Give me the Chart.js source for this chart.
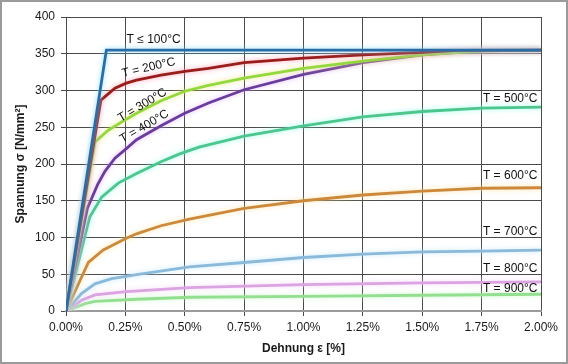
<!DOCTYPE html>
<html lang="de">
<head>
<meta charset="utf-8">
<title>Spannung-Dehnung</title>
<script src="https://cdn.jsdelivr.net/npm/chart.js@4.4.1/dist/chart.umd.min.js"></script>
<style>
	html, body {
		margin: 0;
		padding: 0;
		background: #fff;
	}
	#chart {
		display: block;
	}
</style>
</head>
<body>
<canvas id="chart" width="568" height="364"></canvas>
<script>
/* ==========================================================================
 Data
 ========================================================================== */

const strainTicks = [0, 0.25, 0.5, 0.75, 1.0, 1.25, 1.5, 1.75, 2.0];
const stressTicks = [0, 50, 100, 150, 200, 250, 300, 350, 400];

const strain100 = [0, 0.17, 2.0];
const stress100 = [0, 355, 355];

const strain200 = [0, 0.147, 0.206, 0.254, 0.297, 0.4, 0.5, 0.6, 0.75, 1.0, 1.25, 1.5, 1.65, 2.0];
const stress200 = [0, 287, 303, 310, 314, 321, 326, 330, 338, 344, 348.5, 352, 354.5, 355];

const strain300 = [0, 0.122, 0.178, 0.254, 0.297, 0.4, 0.5, 0.6, 0.75, 1.0, 1.25, 1.5, 1.75, 2.0];
const stress300 = [0, 230, 246, 261, 269, 286, 299, 307, 317, 330, 340, 348.5, 354, 355];

const strain400 = [0, 0.09, 0.133, 0.164, 0.206, 0.254, 0.297, 0.4, 0.5, 0.6, 0.75, 1.0, 1.25, 1.5, 1.75, 2.0];
const stress400 = [0, 140, 172, 190, 208, 221, 233, 252, 269, 283, 301, 322, 338, 348.5, 354, 355];

const strain500 = [0, 0.1, 0.15, 0.22, 0.297, 0.4, 0.479, 0.56, 0.75, 1.0, 1.25, 1.5, 1.75, 2.0];
const stress500 = [0, 128, 155, 174, 187, 203, 213.7, 223, 238, 252, 264, 271.4, 276, 277.4];

const strain600 = [0, 0.094, 0.157, 0.254, 0.297, 0.4, 0.52, 0.75, 1.0, 1.25, 1.5, 1.75, 2.0];
const stress600 = [0, 66, 83, 99, 105, 116, 125, 139.6, 150, 157.8, 163.2, 167, 167.7];

const strain700 = [0, 0.065, 0.122, 0.192, 0.254, 0.297, 0.52, 0.75, 1.0, 1.25, 1.5, 1.75, 2.0];
const stress700 = [0, 23.7, 37, 44, 47, 49.6, 60, 66, 72.8, 77.3, 80.5, 81.4, 82.8];

const strain800 = [0, 0.065, 0.122, 0.254, 0.52, 1.0, 1.5, 2.0];
const stress800 = [0, 14.6, 22, 26.5, 31.8, 36, 38.2, 39.5];

const strain900 = [0, 0.08, 0.122, 0.297, 0.52, 1.0, 1.5, 2.0];
const stress900 = [0, 10, 13.2, 16, 18.7, 20, 21.4, 22.8];

/* ==========================================================================
 Helpers
 ========================================================================== */

const FONT = "'Liberation Sans', Arial, sans-serif";

const toPoints = (xs, ys) => xs.map((x, i) => ({x: x, y: ys[i]}));

const makeCurve = (label, xs, ys, color, glow) => ({
	label: label,
	data: toPoints(xs, ys),
	showLine: true,
	borderColor: color,
	backgroundColor: color,
	borderWidth: 2.8,
	pointRadius: 0,
	tension: 0,
	glow: glow,
});

/* ==========================================================================
 Plugins
 ========================================================================== */

// white page with grey frame
const framePlugin = {
	id: 'frame',
	beforeDraw(chart) {
		const {ctx, width, height} = chart;
		ctx.save();
		ctx.fillStyle = '#ffffff';
		ctx.fillRect(0, 0, width, height);
		ctx.strokeStyle = '#9a9a9a';
		ctx.lineWidth = 2;
		ctx.strokeRect(1, 1, width - 2, height - 2);
		ctx.restore();
	},
};

// soft halo around the lines
const glowPlugin = {
	id: 'glow',
	beforeDatasetDraw(chart, args) {
		const ds = chart.data.datasets[args.index];
		chart.ctx.save();
		chart.ctx.shadowColor = ds.glow;
		chart.ctx.shadowBlur = 5;
	},
	afterDatasetDraw(chart) {
		chart.ctx.restore();
	},
};

// curve labels, anchored in data coordinates
const curveLabels = [
	{text: 'T \u2264 100\u00B0C', x: 0.369, y: 369, angle: 0, align: 'center'},
	{text: 'T = 200\u00B0C', x: 0.348, y: 331, angle: -13, align: 'center'},
	{text: 'T = 300\u00B0C', x: 0.322, y: 280, angle: -31, align: 'center'},
	{text: 'T = 400\u00B0C', x: 0.330, y: 251, angle: -30, align: 'center'},
	{text: 'T = 500\u00B0C', x: 1.985, y: 289, angle: 0, align: 'right'},
	{text: 'T = 600\u00B0C', x: 1.985, y: 184, angle: 0, align: 'right'},
	{text: 'T = 700\u00B0C', x: 1.985, y: 107.5, angle: 0, align: 'right'},
	{text: 'T = 800\u00B0C', x: 1.985, y: 58, angle: 0, align: 'right'},
	{text: 'T = 900\u00B0C', x: 1.985, y: 30.5, angle: 0, align: 'right'},
];

const labelPlugin = {
	id: 'curveLabels',
	afterDatasetsDraw(chart) {
		const {ctx, scales} = chart;
		ctx.save();
		ctx.font = '12px ' + FONT;
		ctx.fillStyle = '#111';
		ctx.textBaseline = 'middle';
		curveLabels.forEach(item => {
			ctx.save();
			ctx.translate(scales.x.getPixelForValue(item.x), scales.y.getPixelForValue(item.y));
			ctx.rotate(item.angle * Math.PI / 180);
			ctx.textAlign = item.align;
			ctx.fillText(item.text, 0, 0);
			ctx.restore();
		});
		ctx.restore();
	},
};

/* ==========================================================================
 Config
 ========================================================================== */

const config = {
	type: 'scatter',
	data: {
		datasets: [
			makeCurve('T \u2264 100\u00B0C', strain100, stress100, '#2a6da6', 'rgba(120,220,255,0.9)'),
			makeCurve('T = 200\u00B0C', strain200, stress200, '#991d1b', 'rgba(255,150,170,0.9)'),
			makeCurve('T = 300\u00B0C', strain300, stress300, '#93d83e', 'rgba(240,230,120,0.9)'),
			makeCurve('T = 400\u00B0C', strain400, stress400, '#6a3c9e', 'rgba(220,170,255,0.8)'),
			makeCurve('T = 500\u00B0C', strain500, stress500, '#4cc68c', 'rgba(140,255,230,0.9)'),
			makeCurve('T = 600\u00B0C', strain600, stress600, '#cc893c', 'rgba(255,225,160,0.9)'),
			makeCurve('T = 700\u00B0C', strain700, stress700, '#8ab9da', 'rgba(190,230,255,0.9)'),
			makeCurve('T = 800\u00B0C', strain800, stress800, '#dba3e2', 'rgba(245,210,250,0.9)'),
			makeCurve('T = 900\u00B0C', strain900, stress900, '#92df8f', 'rgba(200,250,200,0.9)'),
		],
	},
	options: {
		responsive: false,
		devicePixelRatio: 1,
		animation: false,
		events: [],
		layout: {
			padding: {
				top: 17,
				right: 27,
				bottom: 0,
				left: 0,
			},
		},
		scales: {
			x: {
				type: 'linear',
				min: strainTicks[0],
				max: strainTicks[strainTicks.length - 1],
				afterBuildTicks: scale => {
					scale.ticks = strainTicks.map(v => ({value: v}));
				},
				afterFit: scale => {
					scale.height = 53;
				},
				ticks: {
					color: '#1a1a1a',
					padding: 4,
					maxRotation: 0,
					font: {
						size: 12,
						family: FONT,
					},
					callback: value => value.toFixed(2) + '%',
				},
				grid: {
					color: '#4a4a4a',
					lineWidth: 1,
					tickLength: 5,
				},
				border: {
					color: '#9a9a9a',
					width: 2,
				},
				title: {
					display: true,
					text: 'Dehnung \u03B5 [%]',
					color: '#1a1a1a',
					padding: {top: 0, bottom: 8},
					font: {
						size: 12,
						weight: 'bold',
						family: FONT,
					},
				},
			},
			y: {
				type: 'linear',
				min: stressTicks[0],
				max: stressTicks[stressTicks.length - 1],
				afterBuildTicks: scale => {
					scale.ticks = stressTicks.map(v => ({value: v}));
				},
				afterFit: scale => {
					scale.width = 66;
				},
				ticks: {
					color: '#1a1a1a',
					padding: 6,
					font: {
						size: 12,
						family: FONT,
					},
				},
				grid: {
					color: '#4a4a4a',
					lineWidth: 1,
					tickLength: 5,
				},
				border: {
					color: '#4a4a4a',
					width: 1,
				},
				title: {
					display: true,
					text: 'Spannung \u03C3 [N/mm\u00B2]',
					color: '#1a1a1a',
					padding: {top: 13, bottom: 0},
					font: {
						size: 12,
						weight: 'bold',
						family: FONT,
					},
				},
			},
		},
		plugins: {
			legend: {
				display: false,
			},
			tooltip: {
				enabled: false,
			},
		},
	},
	plugins: [framePlugin, glowPlugin, labelPlugin],
};

/* ==========================================================================
 Render
 ========================================================================== */

const myChart = new Chart(document.getElementById('chart'), config);
</script>
</body>
</html>
